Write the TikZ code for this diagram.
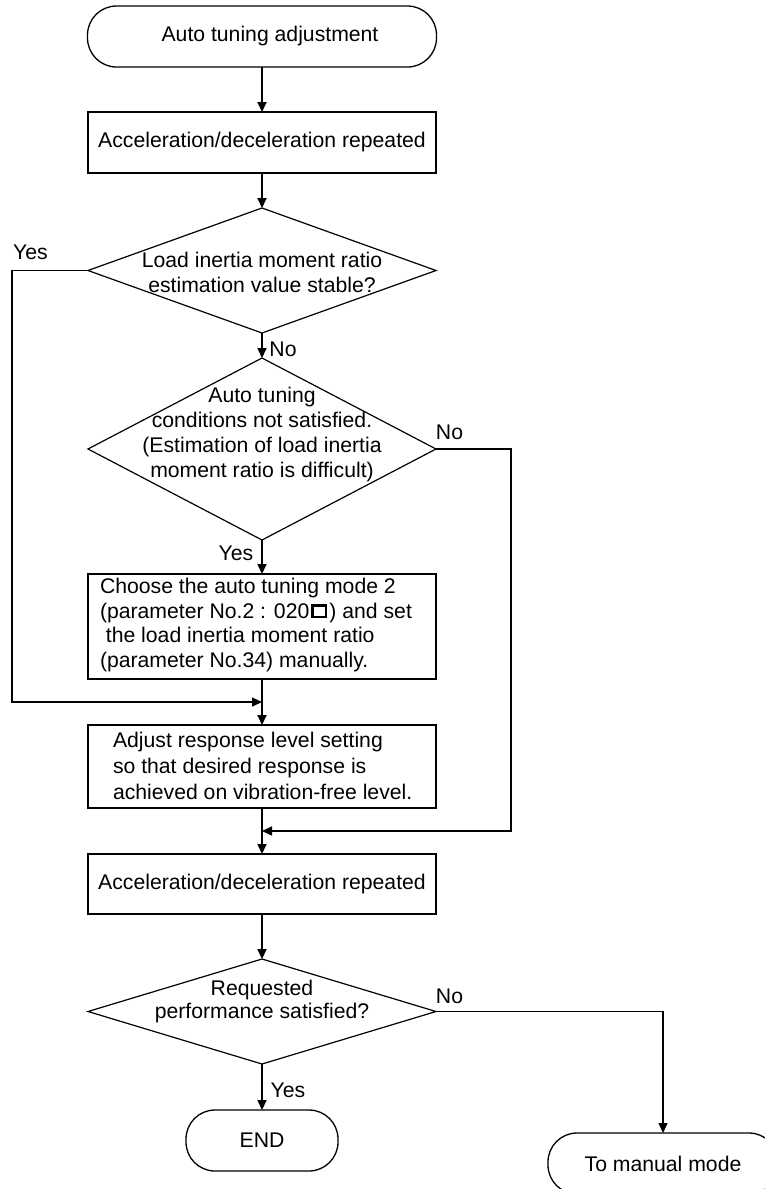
\documentclass[tikz,border=0pt]{standalone}
\usepackage{fontspec}
\setmainfont{Liberation Sans}
\usetikzlibrary{shapes.geometric,arrows.meta}
\newcommand{\sqmark}{\hspace{2pt}\raisebox{2.2pt}{\setlength{\fboxrule}{2.3pt}\setlength{\fboxsep}{0pt}\fbox{\rule{0pt}{9.5pt}\hspace{11pt}}}\hspace{2.5pt}}
\begin{document}
\begin{tikzpicture}[x=1pt,y=-1pt,
  every node/.style={font=\fontsize{21.2}{25}\selectfont, inner sep=0pt, outer sep=0pt},
  term/.style={draw, line width=1.3pt, rounded corners=29pt, minimum height=61pt},
  procbox/.style={draw, line width=1.5pt, minimum width=348pt},
  decision/.style={draw, line width=1.2pt, diamond, minimum width=348pt},
  flow/.style={line width=2pt, -{Triangle[length=10pt,width=9pt]}},
  side/.style={line width=1.4pt, -{Triangle[length=10pt,width=9pt]}}
]
\useasboundingbox (0,0) rectangle (765,1189);
\fill[white] (0,0) rectangle (765,1189);

\node[term, minimum width=349pt] (t1) at (262,36.5) {\hspace*{16pt}Auto tuning adjustment};
\node[procbox, minimum height=61pt] (b1) at (262,142.5) {Acceleration/deceleration repeated};
\node[decision, minimum height=125pt] (d1) at (262,270.5) {};
\node[align=center] (d1t) at (262,272.5) {Load inertia moment ratio\\estimation value stable?};
\node[decision, minimum height=182pt] (d2) at (262,449) {};
\node[align=center] (d2t) at (262,434.5) {Auto tuning\\conditions not satisfied.\\(Estimation of load inertia\\moment ratio is difficult)};
\node[procbox, minimum height=105pt] (b3) at (262,626.5) {};
\node[align=left, anchor=west, font=\fontsize{21.2}{24.5}\selectfont] (b3t) at (100,625) {Choose the auto tuning mode 2\\(parameter No.2 : 020\sqmark) and set\\\hspace*{0.278em}the load inertia moment ratio\\(parameter No.34) manually.};
\node[procbox, minimum height=83pt] (b4) at (262,766.5) {};
\node[align=left, anchor=west, font=\fontsize{21.2}{26}\selectfont] (b4t) at (113,766) {Adjust response level setting\\so that desired response is\\achieved on vibration-free level.};
\node[procbox, minimum height=60pt] (b5) at (262,884) {Acceleration/deceleration repeated};
\node[decision, minimum height=105pt] (d3) at (262,1011.5) {};
\node[align=center, font=\fontsize{21.2}{23}\selectfont] (d3t) at (262,1001.5) {Requested\\performance satisfied?};
\node[term, minimum width=152pt] (tend) at (262,1140.5) {END};
\node[term, minimum width=230pt] (t3) at (663,1163.5) {To manual mode};

\node (ly1) at (30.5,252) {Yes};
\node (ln1) at (283,349) {No};
\node (ln2) at (449.5,432) {No};
\node (ly2) at (236,553) {Yes};
\node (ln3) at (449.5,996) {No};
\node (ly3) at (288,1090) {Yes};

\coordinate (lx) at (12,0);
\coordinate (rx) at (511,0);
\coordinate (j1) at (262,702);
\coordinate (j2) at (262,831);

\draw[flow] (t1) -- (b1);
\draw[flow] (b1) -- (d1);
\draw[flow] (d1) -- (d2);
\draw[flow] (d2) -- (b3);
\draw[flow] (b3) -- (b4);
\draw[flow] (b4) -- (b5);
\draw[flow] (b5) -- (d3);
\draw[flow] (d3) -- (tend);
\draw[side] (d1.west) -- (d1.west -| lx) |- (j1);
\draw[side] (d2.east) -- (d2.east -| rx) |- (j2);
\draw[side] (d3.east) -| (t3.north);
\end{tikzpicture}
\end{document}
